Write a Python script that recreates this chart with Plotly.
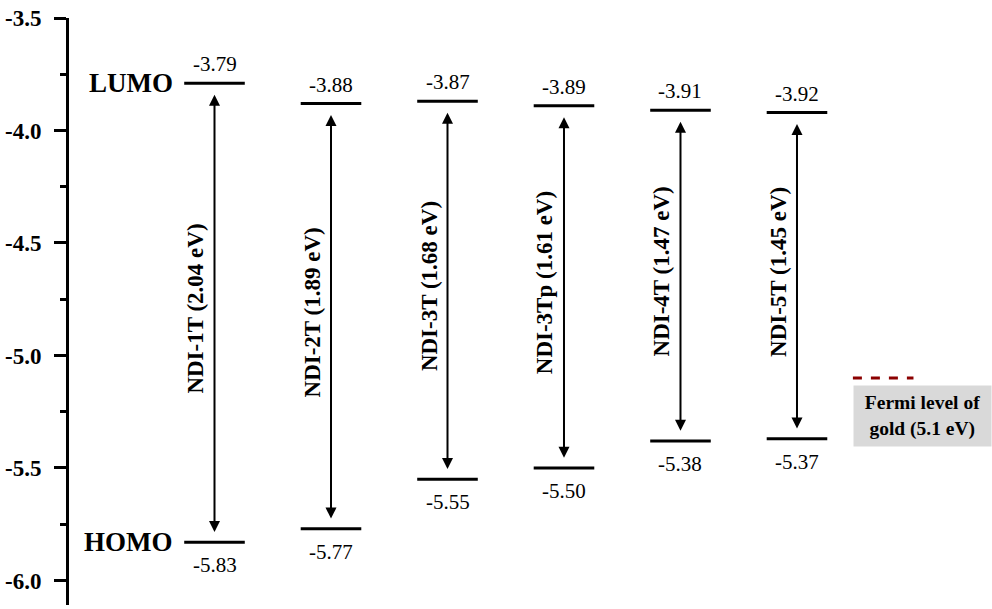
import plotly.graph_objects as go

names = ["NDI-1T", "NDI-2T", "NDI-3T", "NDI-3Tp", "NDI-4T", "NDI-5T"]
lumo = [-3.79, -3.88, -3.87, -3.89, -3.91, -3.92]
homo = [-5.83, -5.77, -5.55, -5.50, -5.38, -5.37]
gaps = [2.04, 1.89, 1.68, 1.61, 1.47, 1.45]
fermi_level = -5.1
tick_vals = [-3.5, -4.0, -4.5, -5.0, -5.5, -6.0]
tick_text = ["-3.5", "-4.0", "-4.5", "-5.0", "-5.5", "-6.0"]

SERIF = "Liberation Serif, Times New Roman, serif"
half = 0.26
xs = list(range(1, len(names) + 1))

fig = go.Figure()

# energy level bars
for i, x in enumerate(xs):
    for val in (lumo[i], homo[i]):
        fig.add_trace(go.Scatter(
            x=[x - half, x + half], y=[val, val], mode="lines",
            line=dict(color="black", width=3), showlegend=False, hoverinfo="skip"))

# Fermi level
fx0 = xs[-1] + 0.48
fig.add_trace(go.Scatter(
    x=[fx0, fx0 + 0.52], y=[fermi_level, fermi_level], mode="lines",
    line=dict(color="#8b0000", width=3, dash="dash"), showlegend=False, hoverinfo="skip"))

annotations = []
gap_off = 0.045
for i, x in enumerate(xs):
    # double arrow
    annotations.append(dict(
        x=x, y=homo[i] + gap_off, ax=x, ay=lumo[i] - gap_off,
        xref="x", yref="y", axref="x", ayref="y", text="",
        showarrow=True, arrowhead=2, arrowside="end+start",
        arrowsize=1.1, arrowwidth=2, arrowcolor="black", standoff=0, startstandoff=0))
    # rotated label
    annotations.append(dict(
        x=x - 0.16, y=(lumo[i] + homo[i]) / 2, xref="x", yref="y", yshift=4,
        text=f"<b>{names[i]} ({gaps[i]:.2f} eV)</b>", textangle=-90,
        showarrow=False, font=dict(family=SERIF, size=23, color="black")))
    # values
    annotations.append(dict(
        x=x, y=lumo[i], xref="x", yref="y", text=f"{lumo[i]:.2f}",
        showarrow=False, yanchor="bottom", yshift=5,
        font=dict(family=SERIF, size=21, color="black")))
    annotations.append(dict(
        x=x, y=homo[i], xref="x", yref="y", text=f"{homo[i]:.2f}",
        showarrow=False, yanchor="top", yshift=-9,
        font=dict(family=SERIF, size=21, color="black")))

annotations.append(dict(
    x=xs[0] - half, y=lumo[0], xref="x", yref="y", text="<b>LUMO</b>",
    showarrow=False, xanchor="right", xshift=-9,
    font=dict(family=SERIF, size=27, color="black")))
annotations.append(dict(
    x=xs[0] - half, y=homo[0], xref="x", yref="y", text="<b>HOMO</b>",
    showarrow=False, xanchor="right", xshift=-9,
    font=dict(family=SERIF, size=27, color="black")))

annotations.append(dict(
    x=fx0, y=fermi_level, xref="x", yref="y",
    text="<b>Fermi level of<br>gold (5.1 eV)</b>",
    showarrow=False, xanchor="left", yanchor="top", yshift=-7,
    bgcolor="#d9d9d9", width=133, height=56, borderpad=2, align="center",
    font=dict(family=SERIF, size=19.5, color="black")))

fig.update_layout(
    width=992, height=609,
    margin=dict(l=69, r=0, t=18, b=4),
    paper_bgcolor="white", plot_bgcolor="white",
    annotations=annotations,
    xaxis=dict(visible=False, range=[-0.249, 7.674], fixedrange=True),
    yaxis=dict(
        range=[-6.109, -3.5], tickmode="array", tickvals=tick_vals, ticktext=tick_text,
        ticks="outside", ticklen=12, tickwidth=3, tickcolor="black",
        showline=True, linewidth=3, linecolor="black", showgrid=False, zeroline=False,
        tickfont=dict(family=SERIF, size=23, color="black", weight="bold"),
        ticklabelstandoff=8,
        minor=dict(ticks="outside", ticklen=6, tickwidth=3, tickcolor="black",
                   tickvals=[-3.75, -4.25, -4.75, -5.25, -5.75], showgrid=False)),
    showlegend=False,
)

fig.write_html(
    "out.html",
    config={"displayModeBar": False},
    post_script="document.body.style.margin='0';document.body.style.overflow='hidden';",
)
